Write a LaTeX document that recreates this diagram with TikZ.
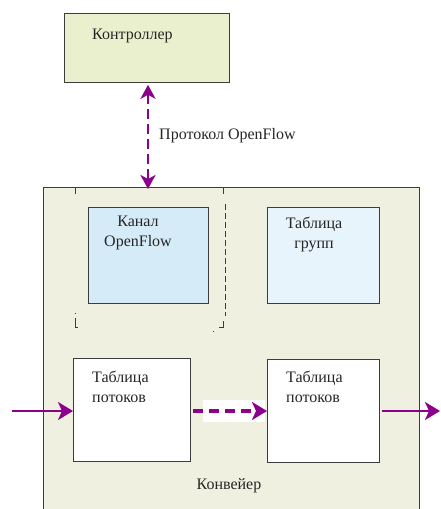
\documentclass[tikz,border=0pt]{standalone}
\usepackage{fontspec}
\setmainfont{Liberation Serif}
\usetikzlibrary{arrows.meta}
\definecolor{flowpurple}{RGB}{140,0,140}
\definecolor{ctrlfill}{RGB}{234,240,206}
\definecolor{pipefill}{RGB}{239,240,223}
\definecolor{chanfill}{RGB}{213,235,247}
\definecolor{groupfill}{RGB}{232,244,252}
\definecolor{edgegray}{RGB}{60,60,60}
\tikzset{
  box/.style={draw=edgegray, line width=0.8pt, inner sep=0pt},
  lbl/.style={font=\fontsize{16}{20}\selectfont, text=black!85, inner sep=0pt, align=center},
  flowarrow/.style={draw=flowpurple, line width=2.2pt, -{Stealth[length=15pt,width=18pt,inset=4pt]}},
  dasharrow/.style={flowarrow, line width=3.6pt, dash pattern=on 10pt off 6pt},
}
\begin{document}
\begin{tikzpicture}[x=1pt,y=-1pt]
\useasboundingbox (0,0) rectangle (440,509);

% controller
\node[box, fill=ctrlfill, minimum width=165pt, minimum height=69pt, anchor=north west] (ctrl) at (64,13) {};
\node[lbl, anchor=base west] (ctrltxt) at (92,39) {Контроллер};

% switch pipeline enclosure (runs past the lower edge)
\path[fill=pipefill, draw=edgegray, line width=0.8pt] (43,515) -- (43,187) -- (419,187) -- (419,515);
\coordinate (pipetop) at (148,187);
\node[lbl, anchor=base] (pipetxt) at (229,489) {Конвейер};

% dashed frame around the channel
\draw[edgegray, line width=0.8pt, dash pattern=on 3pt off 2pt] (75,187) -- (223,187);
\draw[edgegray, line width=0.8pt] (75,187) -- (75,194);
\draw[edgegray, line width=0.8pt] (223,187) -- (223,194);
\draw[edgegray, line width=0.8pt, dash pattern=on 6pt off 3pt] (225,204) -- (225,316);
\draw[edgegray, line width=0.8pt] (75,318) -- (75,327) -- (78,327);
\draw[edgegray, line width=0.8pt] (219,327) -- (223,327) -- (223,321);
\draw[edgegray, line width=0.8pt] (75,313) -- (75,314);
\draw[edgegray, line width=0.8pt] (213,331) -- (214,331);

% OpenFlow channel
\node[box, fill=chanfill, minimum width=120pt, minimum height=96pt, anchor=north west] (chan) at (88,207) {};
\node[lbl, anchor=base] (chantxt) at (138,246) {Канал\\OpenFlow};

% group table
\node[box, fill=groupfill, minimum width=112pt, minimum height=96pt, anchor=north west] (grp) at (267,207) {};
\node[lbl, anchor=base] (grptxt) at (314,248) {Таблица\\групп};

% flow tables
\node[box, fill=white, minimum width=117pt, minimum height=103pt, anchor=north west] (ft1) at (73,358) {};
\node[lbl, anchor=base west, align=left] (ft1txt) at (92,402) {Таблица\\потоков};
\node[box, fill=white, minimum width=112pt, minimum height=103pt, anchor=north west] (ft2) at (267,359) {};
\node[lbl, anchor=base west, align=left] (ft2txt) at (286,402) {Таблица\\потоков};

% OpenFlow protocol link
\draw[flowarrow, line width=2.6pt, dash pattern=on 10pt off 5pt, {Stealth[length=14pt,width=15pt,inset=4pt]}-{Stealth[length=14pt,width=15pt,inset=4pt]}]
  (ctrl.south -| pipetop) ++(0,2) -- ([yshift=-2pt]pipetop);
\node[lbl, anchor=base west] (prototxt) at (159,139) {Протокол OpenFlow};

% packet path
\coordinate (inport) at (12,411);
\coordinate (outport) at (440,411);
\draw[flowarrow] (inport) -- (inport -| ft1.west);
\fill[white] (203,400) rectangle (265,422);
\draw[dasharrow] (ft1.east |- inport) ++(2,0) -- (ft2.west |- inport);
\draw[flowarrow] (ft2.east |- inport) ++(2,0) -- (outport);
\end{tikzpicture}
\end{document}
